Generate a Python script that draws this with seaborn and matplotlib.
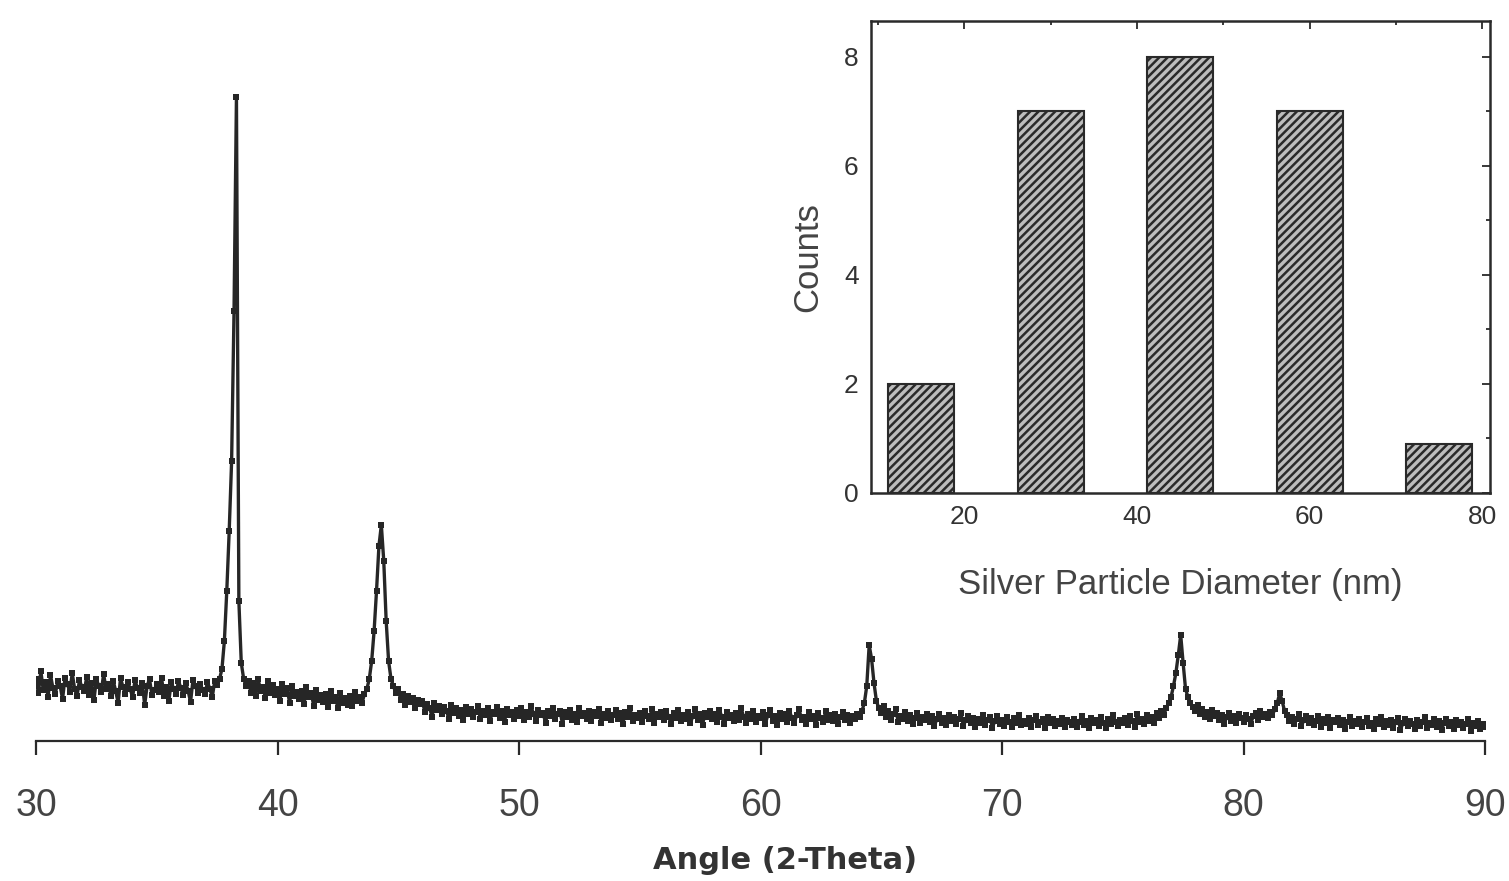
import numpy as np
import seaborn as sns
import matplotlib.pyplot as plt
from matplotlib.ticker import MultipleLocator

# XRD pattern, every 0.1 degree (intensity in arbitrary units)
angles = np.linspace(30, 90, 601)
intensity = [
    62, 48, 70, 51, 59, 44, 66, 53, 47, 60,   # 30
    55, 42, 63, 57, 49, 68, 52, 45, 61, 54,   # 31
    50, 64, 46, 58, 41, 62, 55, 49, 67, 52,   # 32
    57, 45, 60, 50, 38, 63, 54, 47, 59, 52,   # 33
    44, 61, 53, 48, 58, 36, 55, 62, 46, 51,   # 34
    57, 49, 63, 45, 54, 40, 59, 52, 47, 60,   # 35
    53, 46, 58, 50, 39, 61, 55, 48, 57, 51,   # 36
    47, 59, 52, 44, 60, 56, 62, 72, 100, 150,  # 37
    210, 280, 430, 644, 140, 78, 62, 55, 60, 48,  # 38
    58, 45, 62, 50, 54, 43, 60, 48, 56, 46,   # 39
    52, 40, 57, 47, 53, 38, 55, 45, 49, 42,   # 40
    50, 37, 54, 44, 48, 35, 51, 41, 46, 39,   # 41
    47, 34, 50, 40, 44, 33, 48, 38, 43, 36,   # 42
    45, 35, 49, 40, 44, 38, 47, 52, 62, 80,   # 43
    110, 150, 195, 216, 180, 120, 80, 62, 55, 48,  # 44
    52, 41, 47, 36, 45, 39, 43, 33, 41, 37,   # 45
    40, 29, 37, 33, 24, 38, 31, 35, 27, 34,   # 46
    30, 22, 36, 28, 33, 25, 31, 21, 34, 27,   # 47
    32, 24, 29, 35, 22, 30, 26, 33, 20, 29,   # 48
    27, 34, 23, 30, 19, 32, 26, 29, 22, 31,   # 49
    25, 33, 21, 29, 24, 35, 27, 20, 31, 26,   # 50
    28, 18, 30, 25, 33, 22, 27, 30, 17, 29,   # 51
    24, 31, 21, 27, 19, 33, 25, 28, 22, 30,   # 52
    20, 29, 25, 32, 18, 27, 23, 30, 21, 26,   # 53
    31, 22, 28, 17, 29, 24, 33, 20, 26, 23,   # 54
    28, 19, 30, 25, 22, 32, 18, 27, 24, 29,   # 55
    21, 30, 24, 17, 28, 23, 31, 20, 26, 22,   # 56
    29, 18, 25, 32, 21, 27, 16, 28, 24, 30,   # 57
    22, 27, 19, 31, 24, 17, 29, 23, 26, 20,   # 58
    28, 21, 33, 24, 18, 27, 22, 30, 19, 25,   # 59
    23, 29, 17, 26, 31, 20, 25, 16, 28, 22,   # 60
    27, 19, 30, 23, 18, 26, 32, 21, 24, 17,   # 61
    29, 22, 25, 16, 28, 23, 19, 30, 21, 26,   # 62
    20, 27, 17, 24, 29, 21, 26, 18, 25, 22,   # 63
    27, 24, 30, 38, 55, 96, 82, 58, 40, 33,   # 64
    28, 35, 24, 30, 21, 27, 32, 19, 25, 22,   # 65
    29, 20, 26, 17, 23, 28, 18, 24, 21, 27,   # 66
    19, 25, 15, 22, 27, 18, 23, 16, 26, 20,   # 67
    24, 17, 22, 28, 15, 21, 25, 18, 23, 14,   # 68
    22, 18, 26, 16, 21, 24, 13, 20, 25, 17,   # 69
    21, 15, 24, 19, 14, 23, 18, 26, 16, 20,   # 70
    17, 23, 14, 21, 25, 16, 19, 22, 13, 24,   # 71
    18, 22, 15, 20, 17, 23, 14, 21, 19, 16,   # 72
    22, 14, 19, 25, 16, 20, 13, 23, 18, 21,   # 73
    15, 24, 18, 13, 22, 17, 26, 19, 15, 21,   # 74
    18, 23, 16, 25, 20, 14, 27, 19, 22, 17,   # 75
    26, 20, 24, 18, 28, 23, 30, 26, 33, 38,   # 76
    44, 55, 68, 86, 106, 78, 52, 44, 38, 34,  # 77
    30, 36, 27, 32, 24, 29, 22, 31, 25, 28,   # 78
    21, 26, 17, 24, 28, 20, 25, 18, 27, 23,   # 79
    19, 26, 22, 17, 25, 28, 21, 30, 24, 27,   # 80
    23, 29, 26, 32, 38, 48, 40, 30, 26, 20,   # 81
    24, 17, 22, 27, 15, 21, 25, 18, 23, 16,   # 82
    20, 25, 14, 22, 18, 24, 13, 21, 19, 23,   # 83
    16, 21, 12, 19, 24, 15, 20, 17, 22, 14,   # 84
    19, 23, 15, 18, 12, 22, 17, 24, 14, 20,   # 85
    16, 21, 13, 19, 23, 11, 18, 22, 15, 20,   # 86
    17, 12, 21, 15, 19, 24, 13, 18, 16, 22,   # 87
    14, 20, 11, 18, 22, 15, 19, 12, 21, 16,   # 88
    19, 13, 17, 22, 10, 18, 15, 20, 12, 17,   # 89
    14,
]
angle_ticks = [30, 40, 50, 60, 70, 80, 90]

# particle size histogram (inset)
diameters = [15, 30, 45, 60, 75]
counts = [2, 7, 8, 7, 0.9]

sns.set_style('white')
plt.rcParams['font.family'] = ['Liberation Sans', 'DejaVu Sans']
plt.rcParams['hatch.color'] = '#2e2e2e'
plt.rcParams['hatch.linewidth'] = 1.8

fig = plt.figure(figsize=(15.09, 8.81), dpi=100)

# main XRD axes
ax = fig.add_axes([36 / 1509, 140 / 881, 1449 / 1509, 700 / 881])
sns.lineplot(x=angles, y=intensity, ax=ax, color='#262626', linewidth=2.4,
             marker='s', markersize=4, markeredgewidth=0)
ax.set_xlim(30, 90)
ax.set_ylim(0, 700)
ax.set_xticks(angle_ticks)
ax.set_yticks([])
for side in ['left', 'right', 'top']:
    ax.spines[side].set_visible(False)
ax.spines['bottom'].set_color('#2a2a2a')
ax.spines['bottom'].set_linewidth(1.6)
ax.tick_params(axis='x', direction='out', length=10, width=1.6, color='#2a2a2a',
               labelsize=27, labelcolor='#444444', pad=24, bottom=True)
ax.set_xlabel('Angle (2-Theta)', fontsize=22, fontweight='bold',
              family='DejaVu Sans', color='#333333', labelpad=16)
ax.xaxis.label.set_x((785 - 36) / 1449)
ax.set_ylabel('')

# inset histogram
ax_in = fig.add_axes([871 / 1509, 388 / 881, 619 / 1509, 472 / 881])
sns.barplot(x=diameters, y=counts, native_scale=True, width=0.51, ax=ax_in,
            color='#bdbdbd', saturation=1, edgecolor='#2a2a2a', linewidth=1.5)
for bar in ax_in.patches:
    bar.set_hatch('////')
ax_in.set_xlim(9.2, 80.9)
ax_in.set_ylim(0, 8.66)
ax_in.set_xticks([20, 40, 60, 80])
ax_in.set_yticks([0, 2, 4, 6, 8])
ax_in.xaxis.set_minor_locator(MultipleLocator(10))
ax_in.yaxis.set_minor_locator(MultipleLocator(1))
ax_in.tick_params(which='both', direction='in', top=True, right=True,
                  color='#2a2a2a', width=1.3)
ax_in.tick_params(which='major', length=6, labelsize=19, labelcolor='#333333', pad=9)
ax_in.tick_params(which='minor', length=3)
for side in ax_in.spines.values():
    side.set_color('#2a2a2a')
    side.set_linewidth(1.8)
ax_in.set_xlabel('Silver Particle Diameter (nm)', fontsize=25, color='#444444', labelpad=28)
ax_in.set_ylabel('Counts', fontsize=25, color='#444444', labelpad=14)

fig.savefig('out.png', dpi=100, facecolor='white')
